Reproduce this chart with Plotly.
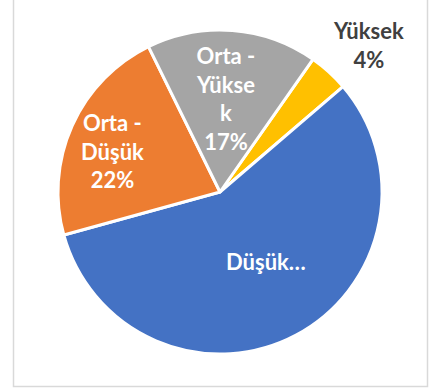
import plotly.graph_objects as go

# Risk level shares (percent), listed clockwise from the first slice
categories = ["Yüksek", "Düşük", "Orta - Düşük", "Orta - Yüksek"]
shares = [4, 57, 22, 17]
colors = ["#FFC000", "#4472C4", "#ED7D31", "#A5A5A5"]

# Label text shown for each slice (the large slice's label is truncated)
label_texts = [
    f"Yüksek<br>{shares[0]}%",
    "Düşük…",
    f"Orta -<br>Düşük<br>{shares[2]}%",
    f"Orta -<br>Yükse<br>k<br>{shares[3]}%",
]
label_colors = ["#404040", "white", "white", "white"]
# label anchor points (paper fractions)
label_pos = [(368 / 443, 1 - 45 / 390), (266 / 443, 1 - 261 / 390),
             (112 / 443, 1 - 151 / 390), (225 / 443, 1 - 98 / 390)]

W, H = 443, 390
cx, cy, r = 220, 192, 162

fig = go.Figure(
    go.Pie(
        labels=categories,
        values=shares,
        sort=False,
        direction="clockwise",
        rotation=35,
        marker=dict(colors=colors, line=dict(color="white", width=3)),
        textinfo="none",
        hoverinfo="label+percent",
        showlegend=False,
        domain=dict(x=[(cx - r) / W, (cx + r) / W],
                    y=[1 - (cy + r) / H, 1 - (cy - r) / H]),
    )
)

for txt, col, (x, y) in zip(label_texts, label_colors, label_pos):
    fig.add_annotation(
        x=x, y=y, xref="paper", yref="paper",
        text=f"<b>{txt}</b>", showarrow=False,
        font=dict(family="Lato", size=22, color=col),
        align="center", xanchor="center", yanchor="middle",
    )

# chart area frame
fig.add_shape(type="rect", xref="paper", yref="paper",
              x0=13.5 / W, x1=427.5 / W, y0=1 - 386.5 / H, y1=1 + 2 / H,
              line=dict(color="#D9D9D9", width=1.5), fillcolor="rgba(0,0,0,0)")

fig.update_layout(
    width=W, height=H,
    margin=dict(l=0, r=0, t=0, b=0),
    paper_bgcolor="white",
    plot_bgcolor="white",
)

fig.write_html("out.html")
